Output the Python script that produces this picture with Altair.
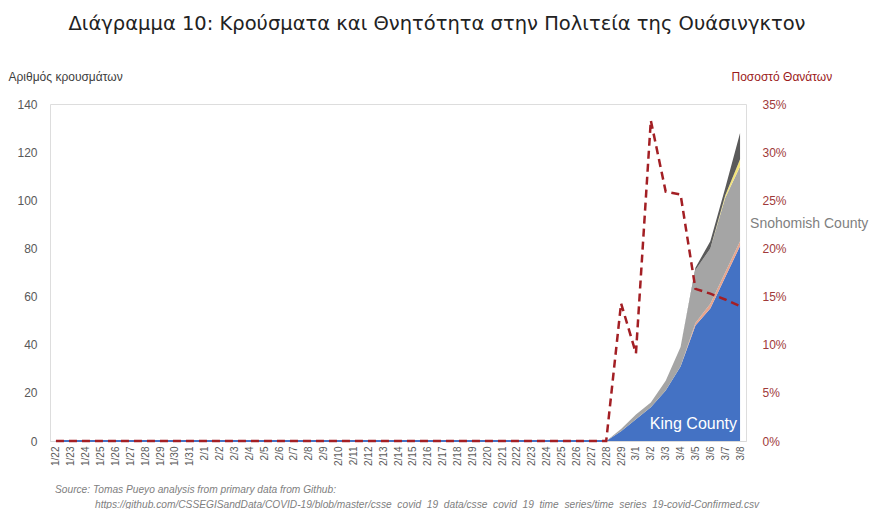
import altair as alt
import pandas as pd

dates = ["1/22", "1/23", "1/24", "1/25", "1/26", "1/27", "1/28", "1/29", "1/30", "1/31",
         "2/1", "2/2", "2/3", "2/4", "2/5", "2/6", "2/7", "2/8", "2/9", "2/10",
         "2/11", "2/12", "2/13", "2/14", "2/15", "2/16", "2/17", "2/18", "2/19", "2/20",
         "2/21", "2/22", "2/23", "2/24", "2/25", "2/26", "2/27", "2/28", "2/29",
         "3/1", "3/2", "3/3", "3/4", "3/5", "3/6", "3/7", "3/8"]

# cases per county (stacked); 38 zero days up to 2/28
king      = [0] * 38 + [4, 9, 14, 21, 31, 48, 55, 68, 81]
pierce    = [0] * 38 + [0, 0, 0, 0, 0, 1, 2, 2, 2]
snohomish = [0] * 38 + [1, 2, 2, 4, 8, 22, 23, 31, 31]
grant     = [0] * 38 + [0, 0, 0, 0, 0, 0, 0, 1, 3]
other     = [0] * 38 + [0, 0, 0, 0, 0, 1, 3, 3, 11]

# death rate (%)
death_rate = [0] * 38 + [14.3, 9.1, 33.3, 25.9, 25.6, 15.8, 15.3, 14.7, 14.0]

series_names = ["King County", "Pierce County", "Snohomish County", "Grant County", "Other"]
series_values = [king, pierce, snohomish, grant, other]
series_colors = ["#4472C4", "#E8A48C", "#A5A5A5", "#F2E37A", "#5A5A5A"]

left_ticks = [0, 20, 40, 60, 80, 100, 120, 140]
right_ticks = [0, 0.05, 0.10, 0.15, 0.20, 0.25, 0.30, 0.35]

title_text = "Διάγραμμα 10: Κρούσματα και Θνητότητα στην Πολιτεία της Ουάσινγκτον"
left_title = "Αριθμός κρουσμάτων"
right_title = "Ποσοστό Θανάτων"
source_1 = "Source: Tomas Pueyo analysis from primary data from Github:"
source_2 = "https://github.com/CSSEGISandData/COVID-19/blob/master/csse_covid_19_data/csse_covid_19_time_series/time_series_19-covid-Confirmed.csv"

rows = []
for k, (name, vals) in enumerate(zip(series_names, series_values)):
    for d, v in zip(dates, vals):
        rows.append({"date": d, "cases": v, "series": name, "ord": k})
df_area = pd.DataFrame(rows)
df_king0 = pd.DataFrame({"date": dates[:38], "cases": king[:38]})
df_rate = pd.DataFrame({"date": dates, "rate": [r / 100 for r in death_rate]})

FONT = "Liberation Sans"

x_enc = alt.X("date:O", sort=dates, title=None,
              scale=alt.Scale(type="point", padding=0.4),
              axis=alt.Axis(labelAngle=270, labelFontSize=10, labelColor="#595959",
                            labelPadding=5, ticks=False, domain=True,
                            domainColor="#D9D9D9", labelFont=FONT))

y_left = alt.Y("cases:Q", stack="zero",
               scale=alt.Scale(domain=[0, 140], nice=False),
               axis=alt.Axis(values=left_ticks, title=left_title, titleAngle=0,
                             titleX=-42, titleY=-24, titleAlign="left",
                             titleBaseline="alphabetic", titleFontSize=12,
                             titleFontWeight="normal", titleColor="#404040",
                             titleFont=FONT, labelFont=FONT,
                             labelFontSize=12, labelColor="#595959", labelPadding=13,
                             ticks=False, domain=False, grid=False))

areas = alt.Chart(df_area).mark_area(opacity=1, interpolate="linear").encode(
    x=x_enc,
    y=y_left,
    color=alt.Color("series:N", scale=alt.Scale(domain=series_names, range=series_colors),
                    legend=None),
    order=alt.Order("ord:Q", sort="ascending"),
)

king_base = alt.Chart(df_king0).mark_line(color="#4472C4", strokeWidth=2).encode(
    x=alt.X("date:O", sort=dates), y=alt.Y("cases:Q"))

king_label = alt.Chart(pd.DataFrame({"date": ["3/5"], "cases": [5], "t": ["King County"]})).mark_text(
    color="white", fontSize=16, align="center", baseline="alphabetic", font=FONT, dx=-2
).encode(x=alt.X("date:O", sort=dates), y=alt.Y("cases:Q"), text="t:N")

snoh_label = alt.Chart(pd.DataFrame({"date": ["3/8"], "cases": [90], "t": ["Snohomish County"]})).mark_text(
    color="#7F7F7F", fontSize=14, align="left", baseline="middle", font=FONT, dx=10
).encode(x=alt.X("date:O", sort=dates), y=alt.Y("cases:Q"), text="t:N")

title_mark = alt.Chart(pd.DataFrame({"t": [title_text]})).mark_text(
    fontSize=19.5, font="DejaVu Sans", color="#222222", align="center", baseline="alphabetic"
).encode(x=alt.value(387), y=alt.value(-74), text="t:N")

src1 = alt.Chart(pd.DataFrame({"t": [source_1]})).mark_text(
    fontSize=10.2, font=FONT, fontStyle="italic", color="#808080", align="left", baseline="alphabetic"
).encode(x=alt.value(5), y=alt.value(389), text="t:N")

src2 = alt.Chart(pd.DataFrame({"t": [source_2]})).mark_text(
    fontSize=10.2, font=FONT, fontStyle="italic", color="#808080", align="left", baseline="alphabetic"
).encode(x=alt.value(45), y=alt.value(404), text="t:N")

left_group = alt.layer(areas, king_base, king_label, snoh_label, title_mark, src1, src2)

rate_line = alt.Chart(df_rate).mark_line(color="#A31F24", strokeWidth=2.5,
                                         strokeDash=[8, 5]).encode(
    x=alt.X("date:O", sort=dates),
    y=alt.Y("rate:Q", scale=alt.Scale(domain=[0, 0.35], nice=False),
            axis=alt.Axis(orient="right", values=right_ticks, format=".0%",
                          title=right_title, titleAngle=0, titleX=-15, titleY=-24,
                          titleAlign="left", titleBaseline="alphabetic",
                          titleFontSize=12, titleFontWeight="normal",
                          titleColor="#9B1B1B", titleFont=FONT, labelFont=FONT,
                          labelFontSize=12, labelColor="#A03A3A", labelPadding=16,
                          ticks=False, domain=False, grid=False)),
)

chart = alt.layer(left_group, rate_line).resolve_scale(y="independent").properties(
    width=696, height=337,
    padding={"left": 42, "top": 96, "right": 126, "bottom": 68},
    autosize=alt.AutoSizeParams(type="none"),
).configure_view(stroke=None).configure(background="white")

chart.save("out.html", embed_options={"renderer": "svg", "actions": False})
